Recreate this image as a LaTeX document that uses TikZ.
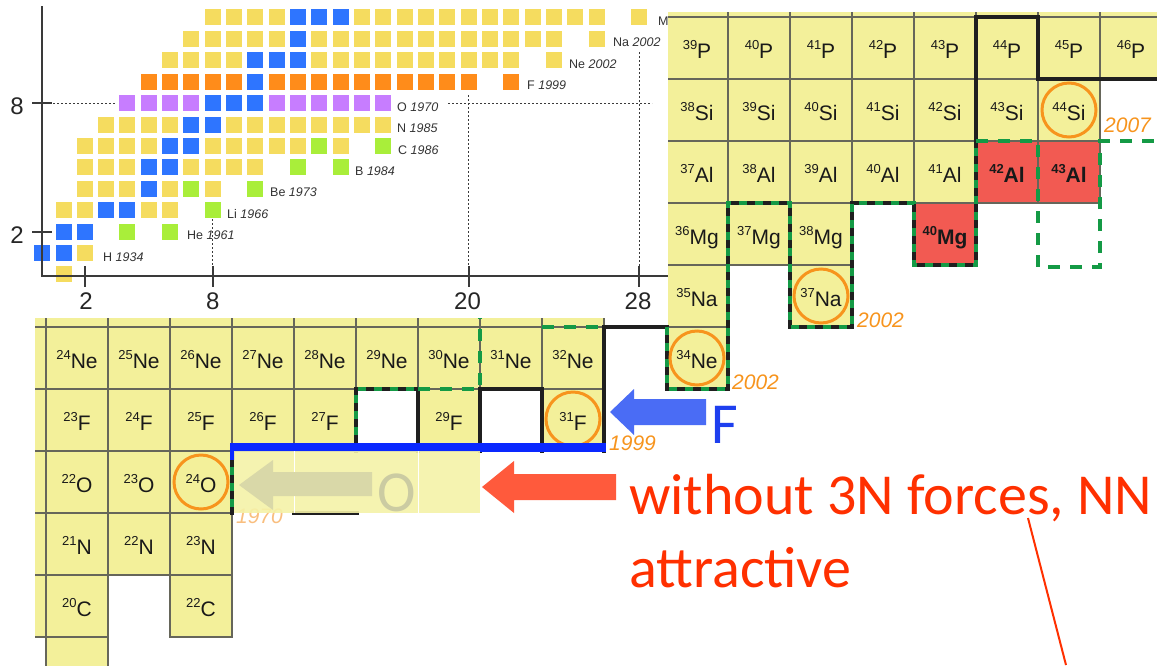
\documentclass[tikz,border=0pt]{standalone}
\usepackage{fontspec}
\setmainfont{Liberation Sans}
\newfontfamily\calib{Carlito}
\definecolor{sqY}{HTML}{F5DC5F}
\definecolor{sqB}{HTML}{2E75FF}
\definecolor{sqO}{HTML}{FF8C1A}
\definecolor{sqP}{HTML}{C77DFF}
\definecolor{sqG}{HTML}{A9EE3A}
\definecolor{cellY}{HTML}{F3F09A}
\definecolor{cellR}{HTML}{F25A52}
\definecolor{gridc}{HTML}{66665A}
\definecolor{dripG}{HTML}{149A45}
\definecolor{orng}{HTML}{F7941D}
\definecolor{bluebar}{HTML}{0A28FF}
\definecolor{bluearr}{HTML}{4A6CF5}
\definecolor{blueF}{HTML}{1E3FEF}
\definecolor{redarr}{HTML}{FF5A3C}
\definecolor{redtxt}{HTML}{FF3000}
\definecolor{fadeY}{HTML}{F5F2A8}
\definecolor{fadeA}{HTML}{D9D8A8}
\definecolor{fadeO}{HTML}{CBCBA2}
\definecolor{fadeYr}{HTML}{F9BE7E}
\definecolor{axisc}{HTML}{3A3A3A}
\newcommand{\sqr}[3]{\fill[#3] ({42.2+21.32*#1-8},{274.4-21.41*#2-8}) rectangle ++(16,16);}
\newcommand{\isot}[2]{{\fontsize{13}{13}\selectfont\raisebox{8.5pt}{#1}}{\fontsize{21}{21}\selectfont #2}}
\newcommand{\isotb}[2]{{\bfseries\isot{#1}{#2}}}
\newcommand{\cel}[4]{\path[fill=#3, draw=gridc, line width=1.3pt] ({46+62*(#1-14)},{327-62*(#2-10)}) rectangle ++(62,62);
  \node[celltext] (c-#1-#2) at ({77+62*(#1-14)},{368-62*(#2-10)}) {#4};}
\newcommand{\celf}[3]{\path[fill=#3, draw=gridc, line width=1.3pt] ({46+62*(#1-14)},{327-62*(#2-10)}) rectangle ++(62,62);}
\begin{document}
\begin{tikzpicture}[x=1pt,y=-1pt,
  chartlbl/.style={anchor=base west, inner sep=0, font=\fontsize{12.5}{12.5}\selectfont, text=black!80},
  axislbl/.style={inner sep=0, font=\fontsize{24}{24}\selectfont, text=black!85},
  celltext/.style={anchor=base, inner sep=0, text=black!90},
  blkline/.style={draw=black!88, line width=4.5pt, line join=miter, line cap=rect},
  grnline/.style={draw=dripG, line width=4.5pt, dash pattern=on 12pt off 10pt},
  bgdash/.style={draw=dripG, line width=4.5pt, dash pattern=on 8pt off 8pt},
  isocirc/.style={draw=orng, line width=3pt},
  yearlbl/.style={anchor=west, inner sep=0, text=orng, font=\fontsize{21}{21}\selectfont\itshape},
  dotl/.style={draw=axisc, line width=0.9pt, dash pattern=on 2pt off 2pt},
  axisl/.style={draw=axisc, line width=2pt},
  bigtxt/.style={anchor=base west, inner sep=0, font=\calib\fontsize{58}{58}\selectfont}]
\useasboundingbox (0,0) rectangle (1157,665);
\fill[white] (0,0) rectangle (1157,665);

% ---------- small nuclide chart ----------
\foreach \z/\a/\b in {0/1/1,1/2/2,3/1/6,4/2/8,5/2/10,6/2/14,7/3/16,10/6/22,11/7/24,12/8/26}
  \foreach \n in {\a,...,\b} {\sqr{\n}{\z}{sqY}}
\foreach \n/\z in {24/10,26/11,28/12} {\sqr{\n}{\z}{sqY}}
\foreach \n in {4,...,16} {\sqr{\n}{8}{sqP}}
\foreach \n in {5,...,20} {\sqr{\n}{9}{sqO}}
\sqr{22}{9}{sqO}
\foreach \n/\z in {0/1,1/1,1/2,2/2,3/3,4/3,5/4,5/5,6/5,6/6,7/6,7/7,8/7,8/8,9/8,10/8,10/9,10/10,11/10,12/10,12/11,12/12,13/12,14/12} {\sqr{\n}{\z}{sqB}}
\foreach \n/\z in {4/2,6/2,8/3,7/4,10/4,12/5,14/5,13/6,16/6} {\sqr{\n}{\z}{sqG}}

\draw[axisl] (42,6) -- (42,276) -- (670,276);
\draw[axisl] (32,103.1) -- (52,103.1);
\draw[axisl] (32,231.6) -- (52,231.6);
\foreach \x in {84.8,212.8,468.6,639.2} {\draw[axisl] (\x,266) -- (\x,287);}
\draw[dotl] (53,103.1) -- (116,103.1);
\draw[dotl] (448,103.1) -- (652,103.1);
\draw[dotl] (212.8,219) -- (212.8,266);
\draw[dotl] (468.6,95) -- (468.6,266);
\draw[dotl] (639.2,52) -- (639.2,266);
\node[axislbl] (ya8) at (17,106) {8};
\node[axislbl] (ya2) at (17,235) {2};
\node[axislbl] (xa2) at (86,301) {2};
\node[axislbl] (xa8) at (212.8,301) {8};
\node[axislbl] (xa20) at (467.5,301) {20};
\node[axislbl] (xa28) at (638,301) {28};

\node[chartlbl] (lH)  at (103,261)   {H \textit{1934}};
\node[chartlbl] (lHe) at (187,239.6) {He \textit{1961}};
\node[chartlbl] (lLi) at (227,218.2) {Li \textit{1966}};
\node[chartlbl] (lBe) at (270,196.8) {Be \textit{1973}};
\node[chartlbl] (lB)  at (355,175.4) {B \textit{1984}};
\node[chartlbl] (lC)  at (398,154)   {C \textit{1986}};
\node[chartlbl] (lN)  at (397,132.5) {N \textit{1985}};
\node[chartlbl] (lO)  at (397,111.1) {O \textit{1970}};
\node[chartlbl] (lF)  at (527,89.7)  {F \textit{1999}};
\node[chartlbl] (lNe) at (569,68.3)  {Ne \textit{2002}};
\node[chartlbl] (lNa) at (613,46.9)  {Na \textit{2002}};
\node[chartlbl] (lMg) at (658,25.5)  {Mg \textit{2002}};

% ---------- right panel ----------
\begin{scope}
\clip (668,12) rectangle (1157,395);
\foreach \n in {24,...,31} {\celf{\n}{16}{cellY}}
\foreach \n in {24,...,31} {\pgfmathtruncatemacro{\m}{\n+15}\cel{\n}{15}{cellY}{\isot{\m}{P}}}
\foreach \n in {24,...,30} {\pgfmathtruncatemacro{\m}{\n+14}\cel{\n}{14}{cellY}{\isot{\m}{Si}}}
\foreach \n in {24,...,28} {\pgfmathtruncatemacro{\m}{\n+13}\cel{\n}{13}{cellY}{\isot{\m}{Al}}}
\cel{29}{13}{cellR}{\isotb{42}{Al}}
\cel{30}{13}{cellR}{\isotb{43}{Al}}
\foreach \n in {24,...,26} {\pgfmathtruncatemacro{\m}{\n+12}\cel{\n}{12}{cellY}{\isot{\m}{Mg}}}
\cel{28}{12}{cellR}{\isotb{40}{Mg}}
\cel{24}{11}{cellY}{\isot{35}{Na}}
\cel{26}{11}{cellY}{\isot{37}{Na}}
\end{scope}
\cel{24}{10}{cellY}{\isot{34}{Ne}}

% ---------- lower left panel ----------
\begin{scope}
\clip (35,318) rectangle (666,665);
\foreach \n in {13,...,22} {\celf{\n}{11}{cellY}}
\foreach \n in {13,...,22} {\pgfmathtruncatemacro{\m}{\n+10}\cel{\n}{10}{cellY}{\isot{\m}{Ne}}}
\foreach \n in {13,...,18,20,22} {\pgfmathtruncatemacro{\m}{\n+9}\cel{\n}{9}{cellY}{\isot{\m}{F}}}
\foreach \n in {13,...,16} {\pgfmathtruncatemacro{\m}{\n+8}\cel{\n}{8}{cellY}{\isot{\m}{O}}}
\foreach \n in {13,...,16} {\pgfmathtruncatemacro{\m}{\n+7}\cel{\n}{7}{cellY}{\isot{\m}{N}}}
\foreach \n in {13,14,16} {\pgfmathtruncatemacro{\m}{\n+6}\cel{\n}{6}{cellY}{\isot{\m}{C}}}
\celf{14}{5}{cellY}
\end{scope}

% ---------- drip lines ----------
\draw[blkline] (1157,79) -- (1038,79) -- (1038,17) -- (976,17) -- (976,265) -- (914,265) -- (914,203) -- (852,203) -- (852,327) -- (790,327) -- (790,203) -- (728,203) -- (728,389) -- (667,389) -- (667,327) -- (604,327) -- (604,451);
\draw[blkline] (542,451) -- (542,389) -- (480,389) -- (480,451);
\draw[blkline] (418,451) -- (418,389) -- (356,389) -- (356,451);
\draw[blkline] (294,513) -- (357,513);
\draw[blkline] (232,451) -- (232,513);
\draw[bgdash] (667,327) -- (667,389) -- (728,389) -- (728,203) -- (790,203) -- (790,327) -- (852,327) -- (852,203) -- (914,203) -- (914,265) -- (976,265) -- (976,141);
\draw[bgdash] (356,451) -- (356,389) -- (418,389);
\draw[bgdash] (232,451) -- (232,513);
\draw[grnline] (976,141) -- (1038,141) -- (1038,267) -- (1100,267) -- (1100,141) -- (1157,141);
\draw[grnline] (418,389) -- (480,389) -- (480,318);
\draw[grnline] (542,327) -- (604,327);

% ---------- circles and years ----------
\draw[isocirc] (1069,110) circle[radius=27];
\draw[isocirc] (821,296) circle[radius=27];
\draw[isocirc] (697,358) circle[radius=27];
\draw[isocirc] (573,419) circle[radius=27];
\draw[isocirc] (201,482) circle[radius=27];
\node[yearlbl] (y2007) at (1104,125) {2007};
\node[yearlbl] (y2002a) at (857,320) {2002};
\node[yearlbl] (y2002b) at (732,382) {2002};
\node[yearlbl] (y1999) at (609,443) {1999};
\node[yearlbl, text=fadeYr] (y1970) at (236,516) {1970};

% ---------- blue bar and faded overlay ----------
\draw[bluebar, line width=9pt] (230,447) -- (606,447);
\draw[bluebar, line width=4.5pt] (232.5,447) -- (232.5,460);
\fill[fadeY, opacity=0.9] (234,451) rectangle (480,513);
\draw[white, line width=1pt] (294,451) -- (294,513);
\draw[white, line width=1pt] (418,451) -- (418,513);
\fill[fadeA] (239,485) -- (273,460) -- (273,472) -- (372,472) -- (372,496) -- (273,496) -- (273,510) -- cycle;
\node[bigtxt, text=fadeO] (fadedO) at (377,511) {O};

% ---------- arrows and labels ----------
\fill[bluearr] (610,412) -- (634,389) -- (634,399) -- (706,399) -- (706,425) -- (634,425) -- (634,435) -- cycle;
\node[bigtxt, text=blueF] (lblF) at (711,443) {F};
\fill[redarr] (482,487) -- (514,461) -- (514,474) -- (616,474) -- (616,500) -- (514,500) -- (514,513) -- cycle;
\node[bigtxt, text=redtxt] (txt1) at (629,514) {without 3N forces, NN};
\node[bigtxt, text=redtxt] (txt2) at (629,587) {attractive};
\coordinate (rl1) at (1028,518);
\coordinate (rl2) at (1066,665);
\draw[redtxt, line width=2pt] (rl1) -- (rl2);
\end{tikzpicture}
\end{document}
